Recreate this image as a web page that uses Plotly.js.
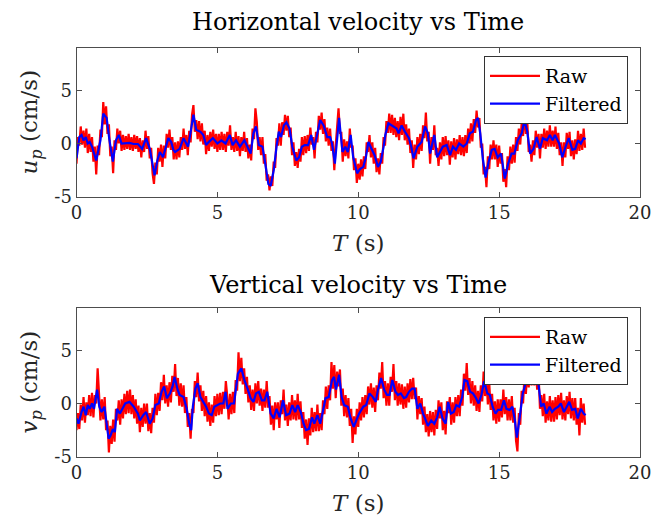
<!DOCTYPE html>
<html>
<head>
<meta charset="utf-8">
<script src="https://cdn.plot.ly/plotly-3.0.1.min.js"></script>
<style>html,body{margin:0;padding:0;background:#fff;}#chart{width:659px;height:527px;}</style>
</head>
<body>
<div id="chart"></div>
<script>
// ---- Data ----
// Raw signals: sampled every 0.05 s from t = 0 to 18.05 s
const rawStep = 0.05;
const uRaw = [
-1.9,0.6,-0.2,1.6,-0.1,1.2,-0.4,1.4,-0.9,0.9,-0.8,0.6,-1.7,-0.3,-2.9,-0.2,-1.1,1.3,0.6,3.9,
1.8,3.5,0.9,1.8,-1.2,-0.3,-2.8,0.3,-0.6,1.4,0.0,1.2,-0.7,0.8,-0.6,0.7,-0.5,0.9,-0.6,0.6,
-0.7,0.8,-0.5,0.7,-0.8,0.5,-1.3,0.3,-0.8,1.2,-0.5,0.7,-1.4,-0.4,-2.8,-3.8,-1.8,-2.9,-0.4,-1.7,
-0.1,-2.2,-0.2,-1.4,0.9,-0.4,1.3,-0.6,0.6,-1.5,0.1,-1.5,0.2,-1.3,0.6,-0.6,1.4,-0.5,0.8,-1.1,
1.2,0.1,2.7,3.6,1.1,2.2,0.4,2.1,0.2,1.9,-0.1,1.2,-1.0,0.8,-0.7,1.1,-0.3,1.3,-0.5,0.9,
-0.8,0.9,-0.6,1.1,-0.6,0.9,-0.8,1.1,-0.2,1.7,-0.6,0.6,-0.8,1.1,-0.7,0.7,-1.2,0.6,-0.7,1.1,
-0.8,0.5,-1.4,-0.1,-1.6,1.4,0.4,3.3,2.0,-0.6,0.6,-1.1,0.6,-1.9,-1.0,-3.5,-2.9,-4.4,-3.1,-4.0,
-1.7,-2.3,0.5,-0.2,1.9,-0.2,2.0,0.8,2.7,1.2,2.6,0.6,1.5,-1.1,0.1,-2.1,-0.8,-2.3,-0.5,-1.7,
0.6,-1.1,0.7,-0.9,0.8,-0.7,1.5,-0.1,0.6,-1.4,1.1,0.1,2.6,1.3,2.9,0.9,2.3,0.2,1.5,-0.2,
1.4,-0.7,0.2,-2.5,-0.2,1.4,3.3,1.0,1.0,-1.7,0.4,-1.2,0.2,-1.4,1.4,-0.4,-0.2,-2.5,-1.4,-3.7,
-1.9,-3.4,-1.5,-3.1,-1.2,-2.4,0.1,-0.8,0.8,-1.3,0.1,-1.9,-0.4,-2.7,-1.4,-2.9,-0.9,-1.9,0.6,-0.2,
2.1,1.0,2.8,1.0,2.7,0.8,2.4,0.6,2.1,0.3,2.5,0.8,2.8,0.3,1.8,-0.1,1.4,-0.9,0.3,-2.3,
-0.1,-1.5,0.6,-1.0,0.9,-0.7,1.7,0.5,2.9,0.2,1.1,-1.9,0.6,-0.6,1.7,-1.1,-0.4,-2.1,0.1,-1.5,
0.6,-1.2,0.7,-1.1,0.3,-2.0,0.2,-1.3,0.5,-1.5,0.4,-1.0,0.8,-1.1,0.6,-1.2,0.8,-0.9,1.4,0.0,
1.9,0.2,2.3,1.0,3.1,1.5,2.4,-0.4,0.0,-2.9,-2.2,-4.1,-1.2,-2.4,-0.1,-1.5,0.3,-1.5,-0.1,-2.2,
-0.2,-1.9,-0.9,-3.6,-2.4,-4.1,-1.2,-2.5,-0.3,-1.9,-0.1,-1.8,0.6,-0.7,1.4,-0.1,1.9,0.7,3.1,0.9,
2.0,-0.8,-0.1,-1.7,0.3,-1.1,1.2,-0.4,0.9,-1.4,0.9,-0.4,1.4,-0.5,1.2,-0.3,1.7,-0.3,1.2,-0.3,
1.6,-0.5,1.0,-1.1,0.1,-2.1,0.1,-1.3,1.0,-0.5,1.1,-1.2,0.3,-1.5,0.4,-1.0,1.2,-0.7,0.9,-0.6,
1.4,-0.4
];
const vRaw = [
-2.5,-0.9,-2.4,-0.1,-1.6,0.6,-1.8,0.1,-1.1,0.8,-1.2,1.0,-1.3,0.8,0.0,3.3,0.9,-1.6,0.4,-1.5,
0.6,-2.5,-1.6,-4.6,-2.1,-3.8,-1.5,-3.6,-0.5,-1.6,0.3,-2.0,0.4,-1.4,0.9,-1.0,1.2,-0.9,1.3,-1.0,
0.8,-1.4,0.4,-1.9,-0.2,-2.7,-0.4,-2.2,0.0,-1.9,0.0,-2.6,-0.9,-2.8,-0.4,-1.8,0.9,-1.1,1.0,-0.7,
2.0,0.3,2.7,0.0,1.7,-0.3,2.0,0.1,2.6,1.1,3.7,0.7,2.4,-0.2,1.9,-0.3,1.7,-0.9,0.6,-2.2,
-0.9,-3.3,-0.5,-0.9,2.1,0.6,2.9,0.2,1.7,-0.7,1.2,-1.2,0.7,-1.7,0.1,-2.1,-0.1,-1.8,0.7,-1.2,
0.9,-1.1,1.0,-1.0,1.1,-0.5,2.1,0.7,-1.5,0.9,-1.0,1.1,-0.9,2.2,1.2,4.8,2.1,4.3,1.8,3.3,
0.9,2.5,0.1,1.7,-0.6,1.3,-0.7,1.9,0.0,2.1,-0.2,1.4,-0.7,1.3,-0.4,2.1,-0.4,0.7,-2.0,-0.2,
-2.5,0.1,-1.5,0.1,-2.3,0.3,-1.0,1.3,-1.6,-0.1,-2.1,0.1,-1.6,0.8,-1.5,0.3,-1.6,0.9,-1.5,0.2,
-2.3,-0.8,-3.3,-1.5,-3.9,-1.4,-3.0,-0.4,-2.7,-0.8,-2.6,-0.1,-2.6,-0.9,-2.5,0.3,-1.0,1.6,-0.5,1.7,
0.3,3.9,1.4,3.6,0.5,3.0,1.6,3.2,-0.2,1.4,-1.2,0.8,-1.3,0.5,-2.1,-0.5,-3.7,-1.2,-2.9,-0.5,
-2.2,0.1,-1.6,0.6,-1.3,0.8,-1.0,1.6,-0.1,1.9,-0.4,1.5,-0.8,1.7,0.3,2.9,1.4,3.9,0.5,2.1,
-0.2,1.9,-0.2,2.5,1.1,3.7,0.3,2.1,-0.2,1.9,-0.1,1.8,-0.5,1.6,-0.4,1.9,0.1,2.3,0.4,2.4,
0.4,1.5,-1.5,0.7,-1.0,0.5,-2.0,-0.3,-2.7,-1.0,-3.1,-0.7,-2.7,-0.8,-3.0,-0.6,-2.4,0.3,-1.4,0.1,
-2.5,-0.7,-2.9,0.2,-0.9,0.6,-2.0,0.1,-1.8,0.6,-1.2,0.8,-1.2,1.3,-0.2,2.8,1.2,3.8,0.8,2.4,
0.0,2.1,-0.2,1.7,-0.7,1.2,-0.8,1.7,0.2,3.0,0.7,2.4,-0.1,1.9,-0.6,0.9,-1.6,0.2,-1.9,0.4,
-1.7,0.4,-1.3,1.3,-1.0,0.6,-1.6,0.4,-1.6,0.7,-1.8,-0.4,-3.5,-4.5,-0.9,-2.0,1.2,0.0,2.6,0.9,
3.3,1.5,3.8,1.7,3.8,1.7,3.6,1.3,2.8,-0.5,0.8,-1.2,0.9,-1.8,0.2,-1.6,0.7,-1.7,0.3,-1.7,
0.6,-1.5,0.8,-1.1,1.0,-1.5,0.3,-1.6,0.7,-1.0,1.1,-1.4,0.5,-1.6,0.5,-2.0,-0.4,-3.0,0.5,-1.8,
0.0,-2.0
];

// Filtered signals (time, value)
const tUF = [0,0.1,0.18,0.25,0.33,0.4,0.47,0.55,0.7,0.85,0.95,1.07,1.17,1.29,1.4,1.5,1.6,1.73,1.88,2.03,
2.18,2.33,2.47,2.6,2.7,2.77,2.87,2.96,3.07,3.17,3.26,3.36,3.44,3.5,3.66,3.8,3.96,4.04,4.15,4.25,
4.4,4.5,4.6,4.7,4.84,5.0,5.14,5.29,5.44,5.54,5.66,5.8,5.96,6.1,6.18,6.28,6.37,6.47,6.6,6.7,
6.81,6.89,7.0,7.1,7.18,7.26,7.36,7.45,7.56,7.66,7.8,7.9,8.0,8.1,8.22,8.33,8.43,8.55,8.65,8.77,
8.9,9.0,9.07,9.17,9.32,9.44,9.54,9.63,9.73,9.82,9.96,10.06,10.18,10.27,10.36,10.47,10.58,10.7,10.8,10.9,
10.96,11.07,11.2,11.36,11.43,11.54,11.66,11.8,11.88,11.96,12.1,12.25,12.37,12.47,12.55,12.7,12.8,12.9,13.0,13.14,
13.26,13.36,13.47,13.58,13.73,13.85,13.96,14.07,14.18,14.25,14.33,14.43,14.52,14.63,14.74,14.84,14.95,15.07,15.2,15.32,
15.44,15.54,15.66,15.8,15.9,16.0,16.1,16.22,16.33,16.45,16.55,16.7,16.8,16.9,16.98,17.13,17.24,17.36,17.47,17.6,
17.7,17.8,17.9,18.0,18.07];
const uFilt = [-1.4,0.6,0.8,0.3,0.6,0,0.15,-0.3,-1.6,0.3,2.8,2.4,0.3,-1.7,0.3,0.8,0,0,0.05,-0.05,
-0.05,-0.5,0.5,-0.5,-1.9,-3.0,-1.6,-0.8,-1.3,-0.3,0.5,0.15,-0.6,-0.8,-0.5,0.5,-0.3,0.9,2.7,1.3,
1.1,0.8,-0.15,0.15,0.5,0,0.3,0,0.8,-0.15,0.3,-0.3,0.3,-0.5,-0.95,0.95,1.6,-0.15,-0.3,-1.9,
-3.8,-4.0,-2.5,-0.3,1.1,0.6,1.7,2.0,1.4,-0.3,-1.6,-1.3,-0.3,-0.15,-0.15,0.8,-0.6,0.95,2.2,1.7,
0.6,0.6,0,-1.9,2.4,-0.8,-0.3,-0.8,0.8,-1.3,-2.8,-2.4,-2.2,-1.3,0.15,-0.5,-1.1,-2.2,-1.7,-0.3,
0.8,1.9,1.7,1.4,0.95,1.7,1.1,0.5,-0.3,-1.4,-0.3,0.15,1.6,0.95,-0.95,0.8,-1.3,-0.8,-0.3,-0.15,
-1.1,-0.3,-0.6,0,-0.3,0,0.95,1.1,2.2,2.4,0.95,-1.6,-3.2,-1.7,-0.6,-0.5,-1.3,-0.95,-3.3,-1.9,
-0.95,-0.95,0.3,0.95,2.2,1.1,-0.95,-0.5,0.6,-0.5,0.5,0.3,0.8,0.3,0.8,0,-1.3,-0.3,0.5,-0.6,
-0.5,0.3,0,0.5,0.4];

const tVF = [0,0.07,0.18,0.25,0.33,0.4,0.47,0.55,0.62,0.73,0.81,0.89,0.99,1.07,1.14,1.21,1.29,1.36,1.44,1.54,
1.63,1.73,1.88,2.03,2.18,2.25,2.37,2.47,2.6,2.7,2.8,2.92,3.02,3.11,3.21,3.32,3.41,3.48,3.59,3.66,
3.8,3.91,4.0,4.07,4.13,4.22,4.3,4.4,4.5,4.6,4.7,4.8,4.89,5.0,5.1,5.21,5.29,5.36,5.48,5.59,
5.66,5.73,5.85,5.96,6.07,6.18,6.28,6.37,6.47,6.58,6.67,6.77,6.89,7.0,7.1,7.21,7.33,7.44,7.56,7.66,
7.76,7.85,7.96,8.06,8.15,8.25,8.36,8.44,8.55,8.65,8.74,8.84,8.95,9.07,9.14,9.21,9.32,9.41,9.5,9.63,
9.73,9.84,9.93,10.03,10.18,10.28,10.4,10.52,10.62,10.7,10.81,10.92,11.02,11.11,11.21,11.32,11.41,11.51,11.62,11.7,
11.8,11.91,12.0,12.1,12.2,12.3,12.4,12.47,12.59,12.7,12.8,12.89,12.99,13.1,13.19,13.29,13.39,13.48,13.58,13.69,
13.77,13.87,13.97,14.07,14.18,14.27,14.37,14.47,14.58,14.67,14.77,14.87,14.96,15.07,15.17,15.26,15.37,15.47,15.56,15.63,
15.73,15.84,15.94,16.04,16.16,16.27,16.38,16.49,16.58,16.68,16.79,16.88,16.98,17.1,17.19,17.3,17.4,17.49,17.59,17.7,
17.79,17.9,18.0,18.07];
const vFilt = [-1.4,-1.9,-0.8,-0.3,-1.1,-0.15,-0.5,0,-0.5,1.3,-0.3,-0.8,-0.3,-1.9,-3.3,-3.0,-2.4,-2.7,-0.5,-0.95,
-0.5,0,0.15,-0.3,-0.95,-1.6,-1.1,-0.8,-1.9,-1.4,-0.15,0,1.1,1.6,0.5,0.95,1.6,2.5,1.3,0.8,
0.6,-0.5,-1.9,-2.5,-0.3,1.4,1.9,0.6,0.15,-0.3,-0.95,-1.1,-0.3,-0.15,0,0,1.1,-0.5,0,0,
1.4,2.8,3.3,2.2,1.4,0.5,0.15,0.95,1.1,0.3,0.3,1.1,-0.95,-1.4,-0.5,-1.3,0.3,-1.1,-0.95,-0.15,
-0.8,-0.15,-0.8,-1.9,-2.5,-2.4,-1.3,-1.9,-1.1,-1.9,-0.8,0.5,0.6,2.2,2.5,1.3,2.7,0.6,-0.15,-0.3,
-1.4,-2.2,-1.6,-0.95,-0.3,-0.15,0.95,0.6,0.15,1.3,2.4,1.3,0.8,0.8,2.2,1.1,0.8,0.95,0.5,0.6,
1.1,1.4,1.4,-0.5,0,-0.95,-1.6,-2.1,-1.6,-1.9,-1.3,-0.3,-1.4,-1.9,0.15,-0.95,-0.8,-0.15,-0.3,0.6,
2.2,2.1,1.1,0.95,0.5,0,0.8,2.1,0.95,0.8,-0.3,-0.95,-0.6,-0.6,0.3,-0.5,-0.6,-0.3,-1.6,-3.2,
-1.3,0.95,1.9,2.5,2.8,2.7,2.2,-0.3,0,-0.95,-0.3,-0.8,-0.5,-0.3,0,-0.8,-0.3,0.15,-0.6,-0.5,
-1.4,-0.5,-0.95,-1.1];

const xTicks = [0, 5, 10, 15, 20];
const xTickText = ['0', '5', '10', '15', '20'];
const yTicks = [-5, 0, 5];
const yTickText = ['-5', '0', '5'];
const seriesNames = ['Raw', 'Filtered'];
const titles = ['Horizontal velocity vs Time', 'Vertical velocity vs Time'];

// ---- Build ----
const tRawU = uRaw.map((_, i) => +(i * rawStep).toFixed(2));
const tRawV = vRaw.map((_, i) => +(i * rawStep).toFixed(2));

const FONT = 'DejaVu Serif, serif';
const RED = '#ff0000', BLUE = '#0000ff';

const traces = [
  {x: tRawU, y: uRaw, type: 'scatter', mode: 'lines', name: seriesNames[0], line: {color: RED, width: 2.2}, xaxis: 'x', yaxis: 'y', legend: 'legend'},
  {x: tUF, y: uFilt, type: 'scatter', mode: 'lines', name: seriesNames[1], line: {color: BLUE, width: 2.2}, xaxis: 'x', yaxis: 'y', legend: 'legend'},
  {x: tRawV, y: vRaw, type: 'scatter', mode: 'lines', name: seriesNames[0], line: {color: RED, width: 2.2}, xaxis: 'x2', yaxis: 'y2', legend: 'legend2'},
  {x: tVF, y: vFilt, type: 'scatter', mode: 'lines', name: seriesNames[1], line: {color: BLUE, width: 2.2}, xaxis: 'x2', yaxis: 'y2', legend: 'legend2'}
];

const W = 659, H = 527;
const xDom = [76.5 / W, 640 / W];
const yDom1 = [1 - 196.7 / H, 1 - 47.7 / H];
const yDom2 = [1 - 456.7 / H, 1 - 307.7 / H];

function xAxis(domain, anchor) {
  return {
    domain: domain, anchor: anchor, range: [0, 20],
    tickmode: 'array', tickvals: xTicks, ticktext: xTickText,
    ticks: 'inside', ticklen: 5, tickwidth: 1, tickcolor: '#4d4d4d',
    showline: true, linecolor: '#4d4d4d', linewidth: 1, mirror: 'ticks',
    showgrid: false, zeroline: false,
    tickfont: {family: FONT, size: 18, color: '#262626'},
    title: {text: '<i>T</i> (s)', font: {family: FONT, size: 23, color: '#262626'}, standoff: 12}
  };
}
function yAxis(domain, anchor, label) {
  return {
    domain: domain, anchor: anchor, range: [-5, 9],
    tickmode: 'array', tickvals: yTicks, ticktext: yTickText,
    ticks: 'inside', ticklen: 5, tickwidth: 1, tickcolor: '#4d4d4d',
    showline: true, linecolor: '#4d4d4d', linewidth: 1, mirror: 'ticks',
    showgrid: false, zeroline: false,
    tickfont: {family: FONT, size: 18, color: '#262626'},
    title: {text: label, font: {family: FONT, size: 23, color: '#262626'}, standoff: 10}
  };
}
function legendAt(yTop) {
  return {
    x: 628 / W, xanchor: 'right', y: yTop, yanchor: 'top',
    bgcolor: '#ffffff', bordercolor: '#333333', borderwidth: 1,
    font: {family: FONT, size: 19, color: '#000'},
    tracegroupgap: 0, itemwidth: 50
  };
}

const layout = {
  width: W, height: H,
  margin: {l: 0, r: 0, t: 0, b: 0},
  paper_bgcolor: '#ffffff', plot_bgcolor: '#ffffff',
  showlegend: true,
  xaxis: xAxis(xDom, 'y'),
  yaxis: yAxis(yDom1, 'x', '<i>u</i><sub><i>p</i></sub> (cm/s)'),
  xaxis2: xAxis(xDom, 'y2'),
  yaxis2: yAxis(yDom2, 'x2', '<i>v</i><sub><i>p</i></sub> (cm/s)'),
  legend: legendAt(1 - 56 / H),
  legend2: legendAt(1 - 317 / H),
  annotations: [
    {text: titles[0], xref: 'paper', yref: 'paper', x: 358 / W, y: 1 - 22 / H, xanchor: 'center', yanchor: 'middle', showarrow: false, font: {family: FONT, size: 24, color: '#000'}},
    {text: titles[1], xref: 'paper', yref: 'paper', x: 358 / W, y: 1 - 285 / H, xanchor: 'center', yanchor: 'middle', showarrow: false, font: {family: FONT, size: 24, color: '#000'}}
  ]
};

Plotly.newPlot('chart', traces, layout, {staticPlot: true, displayModeBar: false});
</script>
</body>
</html>
